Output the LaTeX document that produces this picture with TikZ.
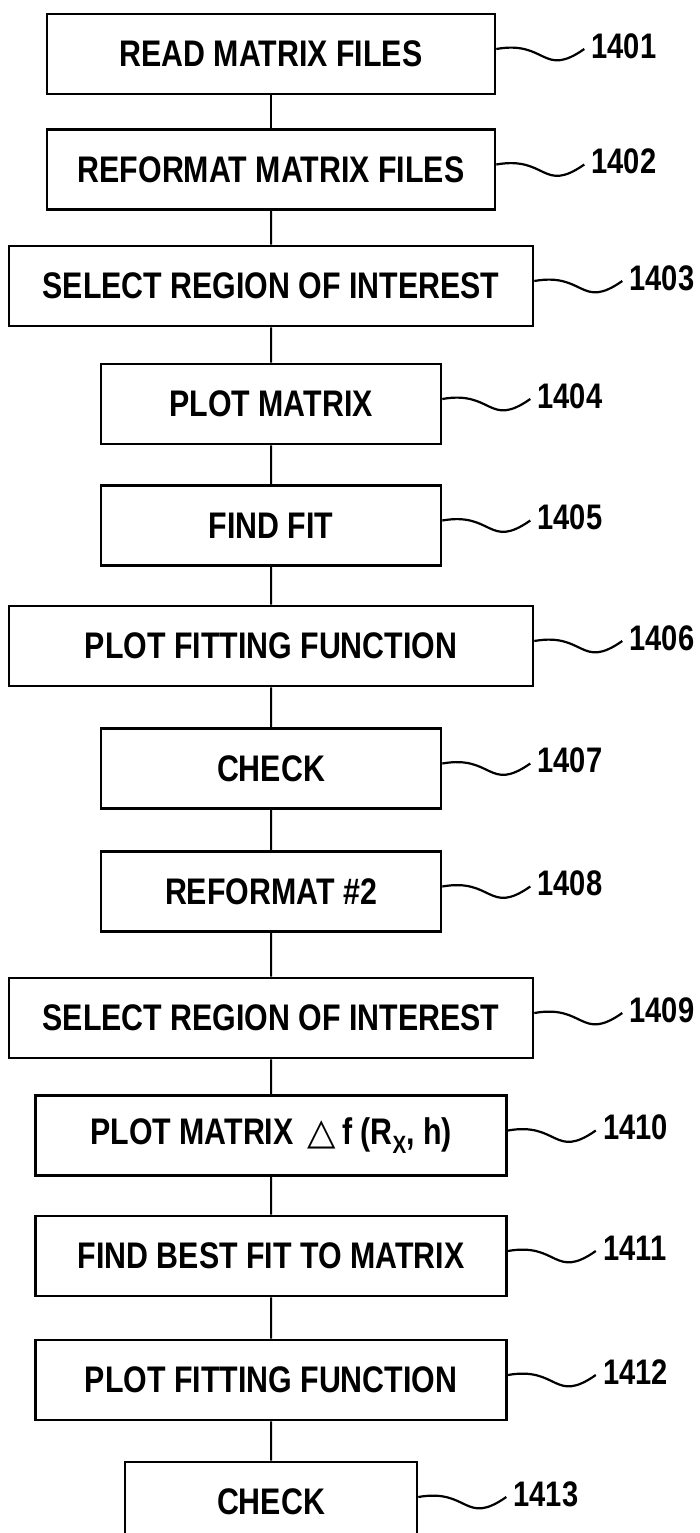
\documentclass[tikz,border=0pt]{standalone}
\usepackage{fontspec}
\usetikzlibrary{positioning}
\newfontfamily\flowsans{Liberation Sans}[FakeStretch=0.82]
\newfontfamily\trisans{DejaVu Sans}
\newcommand\boxfont{\flowsans\bfseries\fontsize{37}{40}\selectfont}
\newcommand\reffont{\flowsans\bfseries\fontsize{35.5}{38}\selectfont}

\begin{document}
\begin{tikzpicture}[x=1pt,y=1pt]
\tikzstyle{stepbox}=[
	rectangle,
	draw,
	line width=2.6pt,
	minimum height=80pt,
	font=\boxfont ]
\tikzstyle{every node}=[stepbox]
\tikzstyle{ref}=[draw=none, inner sep=0pt, minimum height=0pt, font=\reffont]
\tikzstyle{squig}=[line width=2.2pt, out=10, in=215, looseness=1.5]
\tikzstyle{edge from parent}=[draw, line width=2pt]
\tikzstyle{level 1}=[level distance=115.5pt]
\tikzstyle{level 2}=[level distance=116.5pt]
\tikzstyle{level 3}=[level distance=118pt]
\tikzstyle{level 4}=[level distance=121.5pt]
\tikzstyle{level 5}=[level distance=120.5pt]
\tikzstyle{level 6}=[level distance=122.5pt]
\tikzstyle{level 7}=[level distance=123pt]
\tikzstyle{level 8}=[level distance=126.5pt]
\tikzstyle{level 9}=[level distance=117.5pt]
\tikzstyle{level 10}=[level distance=120.5pt]
\tikzstyle{level 11}=[level distance=124pt]
\tikzstyle{level 12}=[level distance=122pt]
\useasboundingbox (0,0) rectangle (700,-1533);
\node (s1) at (271,-54) [minimum width=448pt] {READ MATRIX FILES}
  child {node (s2) [minimum width=448pt] {REFORMAT MATRIX FILES}
  child {node (s3) [minimum width=524pt] {SELECT REGION OF INTEREST}
  child {node (s4) [minimum width=340pt] {PLOT MATRIX}
  child {node (s5) [minimum width=340pt] {FIND FIT}
  child {node (s6) [minimum width=524pt] {PLOT FITTING FUNCTION}
  child {node (s7) [minimum width=340pt] {CHECK}
  child {node (s8) [minimum width=340pt] {REFORMAT \#2}
  child {node (s9) [minimum width=524pt] {SELECT REGION OF INTEREST}
  child {node (s10) [minimum width=471pt] {PLOT MATRIX\hspace{14pt}{\trisans\mdseries △}\hspace{6pt}f (R\raisebox{-9pt}{\fontsize{25}{25}\selectfont X}, h)}
  child {node (s11) [minimum width=471pt] {FIND BEST FIT TO MATRIX}
  child {node (s12) [minimum width=471pt] {PLOT FITTING FUNCTION}
  child {node (s13) [minimum width=292pt] {CHECK}
  }}}}}}}}}}}}
;
% reference numerals
\node[ref, right=94pt of s1.east, yshift=8pt] (r1) {1401};
\node[ref, right=94pt of s2.east, yshift=8pt] (r2) {1402};
\node[ref, right=94pt of s3.east, yshift=8pt] (r3) {1403};
\node[ref, right=94pt of s4.east, yshift=8pt] (r4) {1404};
\node[ref, right=94pt of s5.east, yshift=8pt] (r5) {1405};
\node[ref, right=94pt of s6.east, yshift=8pt] (r6) {1406};
\node[ref, right=94pt of s7.east, yshift=8pt] (r7) {1407};
\node[ref, right=94pt of s8.east, yshift=8pt] (r8) {1408};
\node[ref, right=94pt of s9.east, yshift=8pt] (r9) {1409};
\node[ref, right=94pt of s10.east, yshift=8pt] (r10) {1410};
\node[ref, right=94pt of s11.east, yshift=8pt] (r11) {1411};
\node[ref, right=94pt of s12.east, yshift=8pt] (r12) {1412};
\node[ref, right=94pt of s13.east, yshift=8pt] (r13) {1413};
% leader lines
\draw[squig] ([yshift=5pt]s1.east) to ([xshift=-6pt,yshift=-3pt]r1.west);
\draw[squig] ([yshift=5pt]s2.east) to ([xshift=-6pt,yshift=-3pt]r2.west);
\draw[squig] ([yshift=5pt]s3.east) to ([xshift=-6pt,yshift=-3pt]r3.west);
\draw[squig] ([yshift=5pt]s4.east) to ([xshift=-6pt,yshift=-3pt]r4.west);
\draw[squig] ([yshift=5pt]s5.east) to ([xshift=-6pt,yshift=-3pt]r5.west);
\draw[squig] ([yshift=5pt]s6.east) to ([xshift=-6pt,yshift=-3pt]r6.west);
\draw[squig] ([yshift=5pt]s7.east) to ([xshift=-6pt,yshift=-3pt]r7.west);
\draw[squig] ([yshift=5pt]s8.east) to ([xshift=-6pt,yshift=-3pt]r8.west);
\draw[squig] ([yshift=5pt]s9.east) to ([xshift=-6pt,yshift=-3pt]r9.west);
\draw[squig] ([yshift=5pt]s10.east) to ([xshift=-6pt,yshift=-3pt]r10.west);
\draw[squig] ([yshift=5pt]s11.east) to ([xshift=-6pt,yshift=-3pt]r11.west);
\draw[squig] ([yshift=5pt]s12.east) to ([xshift=-6pt,yshift=-3pt]r12.west);
\draw[squig] ([yshift=5pt]s13.east) to ([xshift=-6pt,yshift=-3pt]r13.west);
\end{tikzpicture}
\end{document}
